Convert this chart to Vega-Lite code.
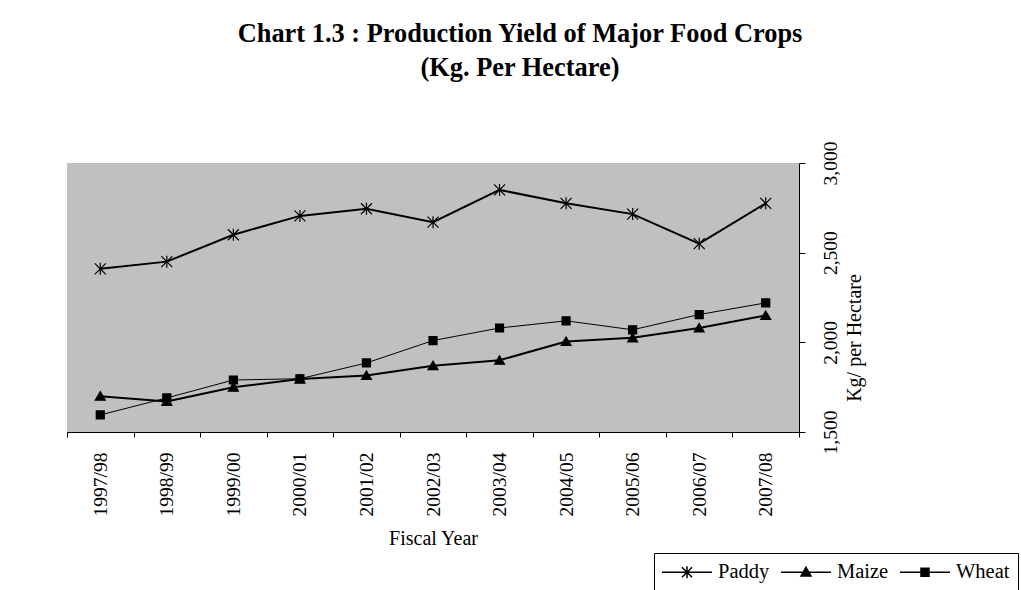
{
  "$schema": "https://vega.github.io/schema/vega-lite/v6.json",
  "autosize": "none",
  "width": 732,
  "height": 269,
  "padding": {"left": 67, "top": 163, "right": 222, "bottom": 158},
  "background": "white",
  "title": {
    "text": ["Chart 1.3 : Production Yield of Major Food Crops", "(Kg. Per Hectare)"],
    "fontSize": 26.4,
    "fontWeight": "bold",
    "font": "Liberation Serif",
    "color": "black",
    "lineHeight": 34,
    "baseline": "bottom",
    "anchor": "middle",
    "frame": "group",
    "offset": 33,
    "dx": 87
  },
  "config": {
    "font": "Liberation Serif",
    "view": {"stroke": null, "fill": "#C0C0C0"},
    "axis": {"domainColor": "black", "tickColor": "black", "labelColor": "black", "titleColor": "black", "grid": false}
  },
  "data": {
    "values": [
      {"year": "1997/98", "crop": "Paddy", "value": 2410},
      {"year": "1998/99", "crop": "Paddy", "value": 2450},
      {"year": "1999/00", "crop": "Paddy", "value": 2600},
      {"year": "2000/01", "crop": "Paddy", "value": 2705},
      {"year": "2001/02", "crop": "Paddy", "value": 2745},
      {"year": "2002/03", "crop": "Paddy", "value": 2670},
      {"year": "2003/04", "crop": "Paddy", "value": 2850},
      {"year": "2004/05", "crop": "Paddy", "value": 2775},
      {"year": "2005/06", "crop": "Paddy", "value": 2715},
      {"year": "2006/07", "crop": "Paddy", "value": 2550},
      {"year": "2007/08", "crop": "Paddy", "value": 2775},
      {"year": "1997/98", "crop": "Maize", "value": 1700},
      {"year": "1998/99", "crop": "Maize", "value": 1670},
      {"year": "1999/00", "crop": "Maize", "value": 1750},
      {"year": "2000/01", "crop": "Maize", "value": 1795},
      {"year": "2001/02", "crop": "Maize", "value": 1815},
      {"year": "2002/03", "crop": "Maize", "value": 1870},
      {"year": "2003/04", "crop": "Maize", "value": 1900},
      {"year": "2004/05", "crop": "Maize", "value": 2005},
      {"year": "2005/06", "crop": "Maize", "value": 2025},
      {"year": "2006/07", "crop": "Maize", "value": 2080},
      {"year": "2007/08", "crop": "Maize", "value": 2150},
      {"year": "1997/98", "crop": "Wheat", "value": 1595},
      {"year": "1998/99", "crop": "Wheat", "value": 1690},
      {"year": "1999/00", "crop": "Wheat", "value": 1790},
      {"year": "2000/01", "crop": "Wheat", "value": 1797},
      {"year": "2001/02", "crop": "Wheat", "value": 1885},
      {"year": "2002/03", "crop": "Wheat", "value": 2010},
      {"year": "2003/04", "crop": "Wheat", "value": 2080},
      {"year": "2004/05", "crop": "Wheat", "value": 2120},
      {"year": "2005/06", "crop": "Wheat", "value": 2070},
      {"year": "2006/07", "crop": "Wheat", "value": 2155},
      {"year": "2007/08", "crop": "Wheat", "value": 2220}
    ]
  },
  "encoding": {
    "x": {
      "field": "year",
      "type": "nominal",
      "bandPosition": 0.5,
      "scale": {"type": "band", "paddingInner": 0, "paddingOuter": 0},
      "axis": {
        "title": "Fiscal Year",
        "titleFontSize": 20,
        "titleFontWeight": "normal",
        "titlePadding": 13,
        "labelAngle": 270,
        "labelAlign": "right",
        "labelBaseline": "middle",
        "labelFontSize": 19.5,
        "labelPadding": 15,
        "tickSize": 5,
        "tickBand": "extent",
        "labelOverlap": false
      }
    },
    "y": {
      "field": "value",
      "type": "quantitative",
      "scale": {"domain": [1500, 3000], "nice": false, "zero": false},
      "axis": {
        "orient": "right",
        "values": [1500, 2000, 2500, 3000],
        "format": ",.0f",
        "title": "Kg/ per Hectare",
        "titleFontSize": 20,
        "titleFontWeight": "normal",
        "titleAngle": 270,
        "titleAlign": "center",
        "titleBaseline": "alphabetic",
        "titleX": 61,
        "titleY": 174.5,
        "labelAngle": 270,
        "labelAlign": "center",
        "labelBaseline": "alphabetic",
        "labelFontSize": 19.5,
        "labelPadding": 31,
        "tickSize": 6,
        "labelOverlap": false
      }
    }
  },
  "resolve": {"scale": {"shape": "independent"}},
  "layer": [
    {
      "transform": [{"filter": "datum.crop !== 'Wheat'"}],
      "mark": {"type": "line", "stroke": "black", "strokeWidth": 2},
      "encoding": {
        "detail": {"field": "crop", "type": "nominal"}
      }
    },
    {
      "transform": [{"filter": "datum.crop === 'Wheat'"}],
      "mark": {"type": "line", "stroke": "black", "strokeWidth": 1},
      "encoding": {
        "detail": {"field": "crop", "type": "nominal"}
      }
    },
    {
      "mark": {"type": "point", "filled": true, "fill": "black", "stroke": "black", "strokeWidth": 1.2, "opacity": 1, "size": 100},
      "encoding": {
        "shape": {
          "field": "crop",
          "type": "nominal",
          "scale": {
            "domain": ["Paddy", "Maize", "Wheat"],
            "range": ["M-1.1,-1.1L1.1,1.1M-1.1,1.1L1.1,-1.1M0,-1.2L0,1.2", "M0,-0.9L1,0.8L-1,0.8Z", "M-0.8,-0.8H0.8V0.8H-0.8Z"]
          },
          "legend": null
        }
      }
    },
    {
      "mark": {"type": "point", "filled": true, "fill": "black", "stroke": "black", "strokeWidth": 1.5, "opacity": 0},
      "encoding": {
        "shape": {
          "field": "crop",
          "type": "nominal",
          "scale": {
            "domain": ["Paddy", "Maize", "Wheat"],
            "range": ["M-2.5,0H2.5M-0.5,-0.5L0.5,0.5M-0.5,0.5L0.5,-0.5M0,-0.6L0,0.6", "M-2.5,0H2.5M0,-0.5L0.5,0.37L-0.5,0.37Z", "M-2.5,0H2.5M-0.4,-0.4H0.4V0.4H-0.4Z"]
          },
          "legend": {
            "title": null,
            "orient": "none",
            "direction": "horizontal",
            "legendX": 587,
            "legendY": 390,
            "padding": 8,
            "strokeColor": "black",
            "fillColor": "white",
            "symbolSize": 400,
            "symbolOffset": 14,
            "symbolOpacity": 1,
            "labelOffset": 20,
            "columnPadding": 8,
            "labelFontSize": 20.5,
            "labelColor": "black",
            "labelFont": "Liberation Serif",
            "encode": {
              "symbols": {
                "fill": {"value": "black"},
                "stroke": {"value": "black"},
                "strokeWidth": {"value": 1.5},
                "opacity": {"value": 1}
              }
            }
          }
        }
      }
    }
  ]
}
